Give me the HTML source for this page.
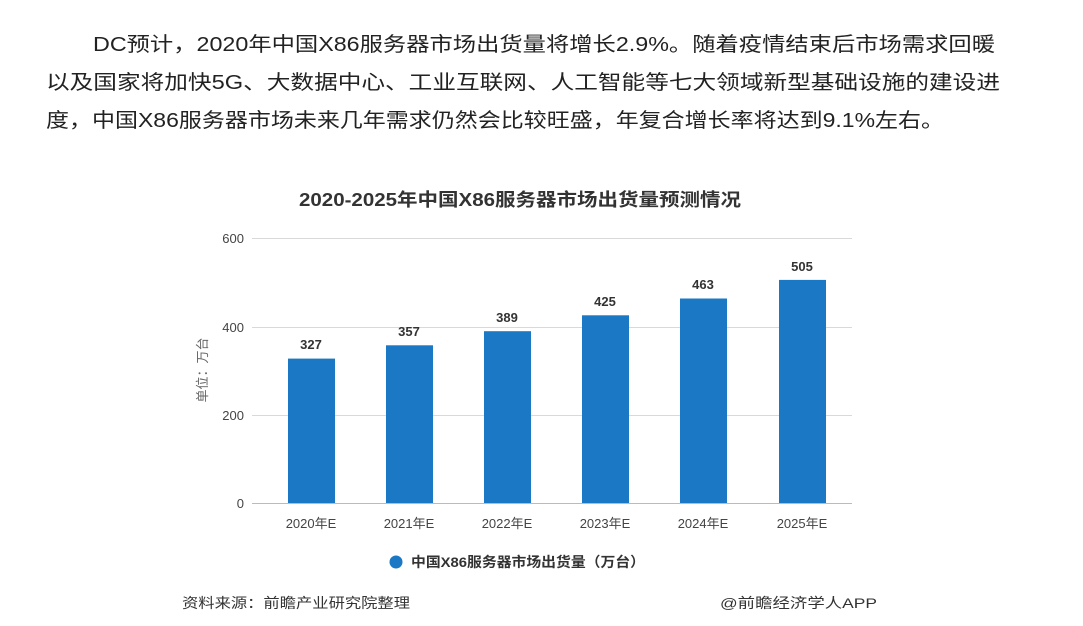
<!DOCTYPE html>
<html><head><meta charset="utf-8"><style>
html,body{margin:0;padding:0;background:#fff;width:1083px;height:626px;overflow:hidden}
svg text{font-family:"Liberation Sans","Noto Sans CJK SC",sans-serif}
</style></head><body>
<svg width="1083" height="626" viewBox="0 0 1083 626" xmlns="http://www.w3.org/2000/svg">
<g font-size="20" fill="#222">
<text x="93" y="51" textLength="902" lengthAdjust="spacingAndGlyphs">DC预计，2020年中国X86服务器市场出货量将增长2.9%。随着疫情结束后市场需求回暖</text>
<text x="46" y="89" textLength="954" lengthAdjust="spacingAndGlyphs">以及国家将加快5G、大数据中心、工业互联网、人工智能等七大领域新型基础设施的建设进</text>
<text x="46" y="127" textLength="898" lengthAdjust="spacingAndGlyphs">度，中国X86服务器市场未来几年需求仍然会比较旺盛，年复合增长率将达到9.1%左右。</text>
</g>
<text x="520" y="206" text-anchor="middle" font-size="18" font-weight="bold" fill="#333" textLength="442" lengthAdjust="spacingAndGlyphs">2020-2025年中国X86服务器市场出货量预测情况</text>
<g stroke="#d9d9d9" stroke-width="1">
<line x1="252" y1="238.5" x2="852" y2="238.5"/>
<line x1="252" y1="327.5" x2="852" y2="327.5"/>
<line x1="252" y1="415.5" x2="852" y2="415.5"/>
</g>
<line x1="252" y1="503.5" x2="852" y2="503.5" stroke="#bbb"/>
<g font-size="13" fill="#444" text-anchor="end">
<text x="244" y="243">600</text><text x="244" y="332">400</text><text x="244" y="420">200</text><text x="244" y="508">0</text>
</g>
<text transform="translate(207,370) rotate(-90)" font-size="13" fill="#666" text-anchor="middle">单位：万台</text>
<g fill="#1a78c4">
<rect x="288" y="358.6" width="47" height="144.4"/>
<rect x="386" y="345.3" width="47" height="157.7"/>
<rect x="484" y="331.2" width="47" height="171.8"/>
<rect x="582" y="315.3" width="47" height="187.7"/>
<rect x="680" y="298.5" width="47" height="204.5"/>
<rect x="779" y="279.9" width="47" height="223.1"/>
</g>
<g font-size="13" font-weight="bold" fill="#333" text-anchor="middle">
<text x="311" y="349">327</text><text x="409" y="336">357</text><text x="507" y="322">389</text>
<text x="605" y="306">425</text><text x="703" y="289">463</text><text x="802" y="271">505</text>
</g>
<g font-size="13" fill="#444" text-anchor="middle">
<text x="311" y="528">2020年E</text><text x="409" y="528">2021年E</text><text x="507" y="528">2022年E</text>
<text x="605" y="528">2023年E</text><text x="703" y="528">2024年E</text><text x="802" y="528">2025年E</text>
</g>
<circle cx="396" cy="562" r="6.5" fill="#1a78c4"/>
<text x="411" y="567" font-size="14" font-weight="bold" fill="#333" textLength="234" lengthAdjust="spacingAndGlyphs">中国X86服务器市场出货量（万台）</text>
<text x="182" y="608" font-size="14" fill="#333" textLength="228" lengthAdjust="spacingAndGlyphs">资料来源：前瞻产业研究院整理</text>
<text x="720" y="608" font-size="14" fill="#333" textLength="157" lengthAdjust="spacingAndGlyphs">@前瞻经济学人APP</text>
</svg>
</body></html>
